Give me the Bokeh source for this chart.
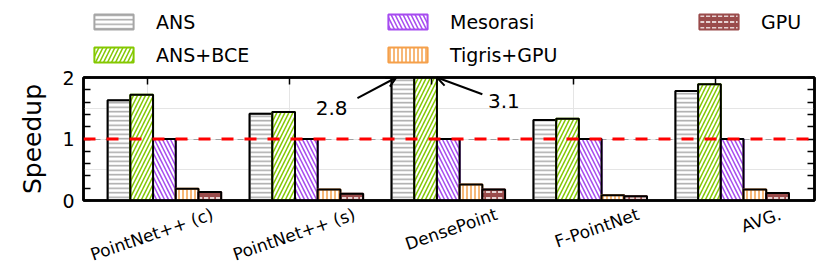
import math
from bokeh.plotting import figure
from bokeh.layouts import column
from bokeh.models import (Range1d, LinearAxis, FixedTicker, Grid, Span, Legend, LegendItem,
                          Arrow, OpenHead, Label, CustomJSTickFormatter)
from bokeh.embed import file_html
from bokeh.resources import INLINE

# ---- data ----
categories = ["PointNet++ (c)", "PointNet++ (s)", "DensePoint", "F-PointNet", "AVG."]
series_names = ["ANS", "ANS+BCE", "Mesorasi", "Tigris+GPU", "GPU"]
ans = [1.63, 1.41, 2.8, 1.31, 1.78]
ans_bce = [1.72, 1.44, 3.1, 1.33, 1.89]
mesorasi = [1.0, 1.0, 1.0, 1.0, 1.0]
tigris_gpu = [0.19, 0.18, 0.26, 0.085, 0.18]
gpu = [0.14, 0.11, 0.18, 0.07, 0.12]
y_ticks = [0, 1, 2]
y_minor = [0.2, 0.4, 0.6, 0.8, 1.2, 1.4, 1.6, 1.8]
baseline = 1.0

# ---- styles ----
FONT = "DejaVu Sans"
colors = ["#a6a6a6", "#84c800", "#a64bf0", "#f5a04a", "#9a4b4b"]
fills = ["white", "white", "white", "white", "#9a4b4b"]
hatches = ["-", "/", "\\", "|", '"']
hatch_colors = ["#a6a6a6", "#84c800", "#a64bf0", "#f5a04a", "white"]
hatch_scales = [4.5, 8, 8, 4, 6]
bar_w = 0.16
offsets = [-0.20 + bar_w * k for k in range(5)]
y_lo, y_hi = 0, 2
values = [ans, ans_bce, mesorasi, tigris_gpu, gpu]

W, H = 830, 277
LEG_H = 68

def bar_style(k):
    return dict(fill_color=fills[k], line_color=colors[k], line_width=2,
                hatch_pattern=hatches[k], hatch_color=hatch_colors[k],
                hatch_scale=hatch_scales[k], hatch_weight=1.5)

# ================= legend strip =================
pl = figure(width=W, height=LEG_H, x_range=Range1d(0, 1), y_range=Range1d(0, 1),
            output_backend="svg", toolbar_location=None,
            x_axis_location=None, y_axis_location=None,
            min_border=0, min_border_left=83, min_border_right=16,
            min_border_top=0, min_border_bottom=0)
pl.outline_line_color = None
pl.xgrid.visible = False
pl.ygrid.visible = False
leg_items = []
nan = float("nan")
for k, name in enumerate(series_names):
    r = pl.vbar(x=[0.5], top=[nan], bottom=[nan], width=0.1, **bar_style(k))
    leg_items.append(LegendItem(label=name, renderers=[r]))

def make_legend(its, loc):
    lg = Legend(items=its, location=loc, orientation="vertical",
                border_line_color=None, background_fill_alpha=0,
                padding=0, margin=0, spacing=11,
                glyph_width=49, glyph_height=19, label_standoff=18,
                label_height=22,
                label_text_font=FONT, label_text_font_size="19px",
                label_text_color="black")
    pl.add_layout(lg)

make_legend(leg_items[0:2], (6, 2.5))
make_legend(leg_items[2:4], (300, 2.5))
make_legend(leg_items[4:5], (611, 35.5))

# ================= main plot =================
p = figure(width=W, height=H - LEG_H, x_range=Range1d(-0.45, 4.70),
           y_range=Range1d(y_lo, y_hi),
           output_backend="svg", toolbar_location=None,
           x_axis_location=None, y_axis_location=None,
           min_border_left=83, min_border_right=16, min_border_top=9,
           min_border_bottom=75)
p.outline_line_color = "black"
p.outline_line_width = 2.5
p.background_fill_color = "white"
p.border_fill_color = "white"

grid = Grid(dimension=1, ticker=FixedTicker(ticks=[baseline]), grid_line_color="#a0a0a0",
            grid_line_dash="6 5", grid_line_width=1)
p.add_layout(grid)

for k, vals in enumerate(values):
    xs = [i + offsets[k] for i in range(len(categories))]
    p.vbar(x=xs, top=vals, bottom=0, width=bar_w, **bar_style(k))
    p.vbar(x=xs, top=vals, bottom=0, width=bar_w, fill_color=None,
           line_color="black", line_width=2)

p.add_layout(Span(location=baseline, dimension="width", line_color="red",
                  line_width=3, line_dash="12 11"))

blank = CustomJSTickFormatter(code="return ''")

def style_axis(ax):
    ax.axis_line_width = 2.5
    ax.axis_line_color = "black"
    ax.major_tick_line_color = "black"
    ax.minor_tick_line_color = "black"
    ax.major_tick_line_width = 1.5
    ax.minor_tick_line_width = 1.5
    ax.major_tick_out = 0
    ax.minor_tick_out = 0
    ax.major_tick_in = 7
    ax.minor_tick_in = 7

left = LinearAxis(ticker=FixedTicker(ticks=y_ticks, minor_ticks=y_minor))
style_axis(left)
left.major_label_text_font = FONT
left.major_label_text_font_size = "19px"
left.major_label_text_color = "black"
left.major_label_standoff = 9
left.axis_label = "Speedup"
left.axis_label_text_font = FONT
left.axis_label_text_font_size = "25px"
left.axis_label_text_font_style = "normal"
left.axis_label_text_color = "black"
left.axis_label_standoff = 12
p.add_layout(left, "left")

right = LinearAxis(ticker=FixedTicker(ticks=y_ticks, minor_ticks=y_minor), formatter=blank)
style_axis(right)
right.major_label_standoff = 0
p.add_layout(right, "right")

group_pos = list(range(len(categories)))
top = LinearAxis(ticker=FixedTicker(ticks=group_pos), formatter=blank)
style_axis(top)
top.major_label_standoff = 0
p.add_layout(top, "above")

label_shift = 0.46
label_pos = [i + label_shift for i in group_pos]
bottom = LinearAxis(ticker=FixedTicker(ticks=label_pos))
style_axis(bottom)
bottom.major_tick_in = 0
bottom.major_tick_line_color = None
bottom.major_label_overrides = {pos: name for pos, name in zip(label_pos, categories)}
bottom.major_label_orientation = 0.33
bottom.major_label_text_font = FONT
bottom.major_label_text_font_size = "17px"
bottom.major_label_text_color = "black"
bottom.major_label_standoff = 13
p.add_layout(bottom, "below")

# ---- annotations for clipped bars ----
px_y = 62.5
g = 2
ans_x = g + offsets[0]
bce_x = g + offsets[1]
p.add_layout(Arrow(end=OpenHead(size=10, line_width=2, line_color="black"),
                   x_start=ans_x - 0.32, y_start=y_hi - 21 / px_y,
                   x_end=ans_x - 0.046, y_end=y_hi, line_width=2, line_color="black"))
p.add_layout(Label(x=ans_x - 0.39, y=y_hi - 31 / px_y, text=f"{ans[g]:.1f}",
                   text_align="right", text_baseline="middle",
                   text_font=FONT, text_font_size="20px", text_color="black"))
p.add_layout(Arrow(end=OpenHead(size=10, line_width=2, line_color="black"),
                   x_start=bce_x + 0.40, y_start=y_hi - 17 / px_y,
                   x_end=bce_x + 0.08, y_end=y_hi, line_width=2, line_color="black"))
p.add_layout(Label(x=bce_x + 0.44, y=y_hi - 23.5 / px_y, text=f"{ans_bce[g]:.1f}",
                   text_align="left", text_baseline="middle",
                   text_font=FONT, text_font_size="20px", text_color="black"))

layout = column(pl, p, spacing=0)
open("out.html", "w").write(file_html(layout, INLINE))
